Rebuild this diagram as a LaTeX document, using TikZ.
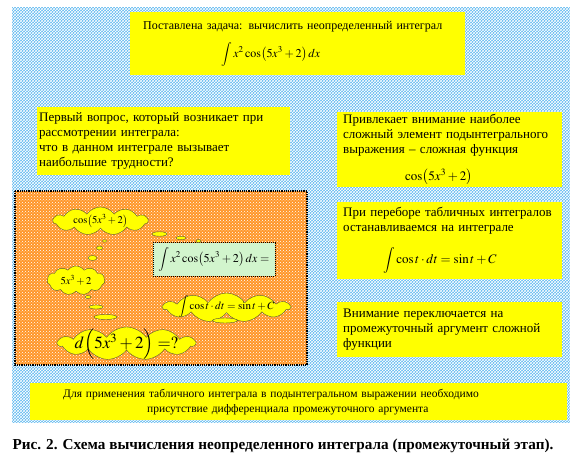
\documentclass[tikz,border=0pt]{standalone}
\usepackage{mathptmx}
\usepackage{fontspec}
\setmainfont{Liberation Serif}
\usepackage{tikz}
\usetikzlibrary{patterns,shapes.symbols,shapes.geometric}
\definecolor{skyback}{RGB}{95,185,240}
\definecolor{orangeback}{RGB}{255,150,40}
\definecolor{paleyellow}{RGB}{255,255,0}
\definecolor{palegreen}{RGB}{210,245,205}
\definecolor{cloudline}{RGB}{90,90,50}
\tikzset{
  card/.style={rectangle, fill=paleyellow, anchor=north west, align=left,
    inner ysep=2pt, font=\fontsize{13}{15}\selectfont},
  thought/.style={cloud, cloud puffs=11, cloud puff arc=110, cloud ignores aspect,
    draw=cloudline, fill=paleyellow, inner sep=0pt},
  bubble/.style={ellipse, draw=cloudline, fill=paleyellow, inner sep=0pt},
  idea/.style={inner sep=0pt}
}
\newcommand{\cosarg}{\cos\bigl(5x^3+2\bigr)}

\begin{document}
\begin{tikzpicture}[x=1pt,y=-1pt]
  \useasboundingbox (0,0) rectangle (573,465);

  % hatched backgrounds
  \fill[skyback] (12,7) rectangle (570,423);
  \fill[pattern=crosshatch, pattern color=white] (12,7) rectangle (570,423);
  \fill[orangeback] (15,191) rectangle (307,365);
  \fill[pattern=crosshatch dots, pattern color=white] (15,191) rectangle (307,365);
  \draw[densely dotted, line width=1.2pt] (15,191) rectangle (307,365);

  % text cards
  \node[card, minimum width=335pt, minimum height=63pt, inner xsep=13pt, text width=309pt,
    font=\fontsize{12}{15}\selectfont]
    (task) at (130,12)
    {Поставлена задача: вычислить неопределенный интеграл\\[9pt]
     \hspace*{78pt}$\displaystyle\int x^2\cosarg\,dx$};
  \node[card, minimum width=253pt, minimum height=68pt, inner xsep=2pt, text width=249pt]
    (question) at (37,107)
    {Первый вопрос, который возникает при\\
     рассмотрении интеграла:\\
     что в данном интеграле вызывает\\
     наибольшие трудности?};
  \node[card, minimum width=225pt, minimum height=73pt, inner xsep=6pt, text width=213pt]
    (attention) at (337,112)
    {Привлекает внимание наиболее\\
     сложный элемент подынтегрального\\
     выражения -- сложная функция\\[12pt]
     \hspace*{62pt}$\cosarg$};
  \node[card, minimum width=225pt, minimum height=77pt, inner xsep=6pt, text width=213pt]
    (tablint) at (337,202)
    {При переборе табличных интегралов\\
     останавливаемся на интеграле\\[12pt]
     \hspace*{40pt}$\displaystyle\int\cos t\cdot dt=\sin t+C$};
  \node[card, minimum width=225pt, minimum height=55pt, inner xsep=6pt, text width=213pt]
    (switch) at (337,302)
    {Внимание переключается на\\
     промежуточный аргумент сложной\\
     функции};
  \node[card, minimum width=537pt, minimum height=37pt, inner xsep=33pt, text width=471pt,
    font=\fontsize{11.5}{15}\selectfont]
    (need) at (30,383)
    {Для применения табличного интеграла в подынтегральном выражении необходимо\\
     \hspace*{84pt}присутствие дифференциала промежуточного аргумента};

  % integral under study
  \node[draw, densely dotted, line width=1pt, fill=palegreen, minimum width=122pt,
    minimum height=33pt, font=\fontsize{12}{14}\selectfont]
    (integral) at (214,259.5) {$\displaystyle\int x^2\cosarg\,dx=$};

  % thought trails
  \foreach \x/\y/\w/\h [count=\i] in {159.5/234/15/4.5, 181/238/10/3.5, 198.5/241/5/3,
    104.5/241/4/2.5, 99.5/248/6/4, 92.5/258/9/5,
    88/297/6/3, 96/307/14/4, 105.5/317/23/5}
    \node[bubble, minimum width=\w pt, minimum height=\h pt] (b\i) at (\x,\y) {};

  % clouds
  \node[thought, minimum width=95pt, minimum height=28pt] (argcos) at (100.5,221) {};
  \node[thought, minimum width=58pt, minimum height=29pt] (arg) at (76,280.5) {};
  \node[thought, minimum width=127pt, minimum height=29pt] (table) at (226.5,307.5) {};
  \node[bubble, minimum width=25pt, minimum height=5pt] (b10) at (225,320.5) {};
  \node[thought, minimum width=137pt, minimum height=33pt] (diff) at (126.5,343.5) {};

  \node[idea, font=\fontsize{10.5}{12}\selectfont] (argcos-t) at (argcos) {$\cosarg$};
  \node[idea, font=\fontsize{10.5}{12}\selectfont] (arg-t) at (arg) {$5x^3+2$};
  \node[idea, font=\fontsize{11}{12}\selectfont] (table-t) at (226.5,306.5)
    {$\displaystyle\int\cos t\cdot dt=\sin t+C$};
  \node[idea, font=\fontsize{17}{18}\selectfont] (diff-t) at (126.5,344)
    {$d\Bigl(5x^3+2\Bigr)=?$};

  \node[font=\bfseries\fontsize{15.2}{17}\selectfont] (caption) at (283,446)
    {Рис. 2. Схема вычисления неопределенного интеграла (промежуточный этап).};
\end{tikzpicture}
\end{document}
